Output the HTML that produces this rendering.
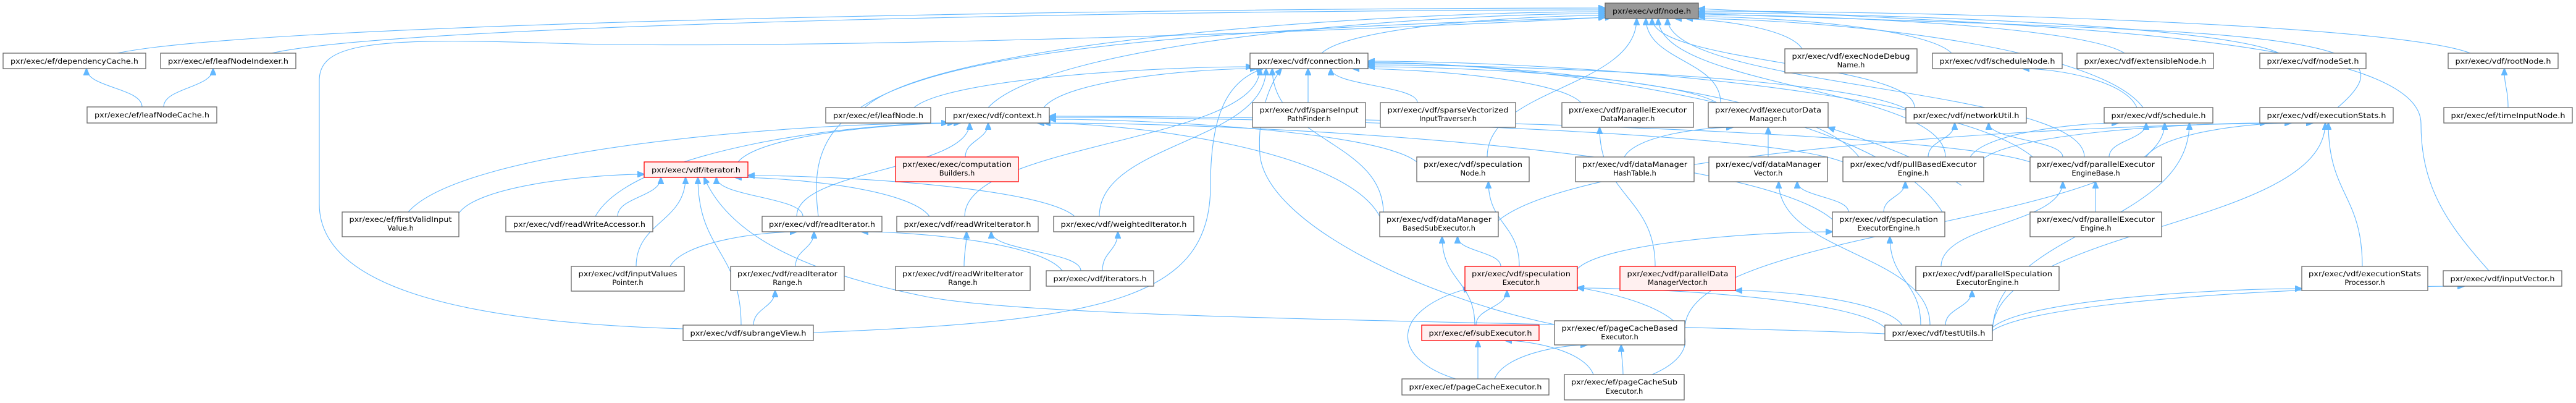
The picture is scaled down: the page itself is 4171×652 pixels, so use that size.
<!DOCTYPE html>
<html><head><meta charset="utf-8"><style>
html,body{margin:0;padding:0;background:#fff;}
svg{display:block;}
text{font-family:"DejaVu Sans","Liberation Sans",sans-serif;font-size:11.5px;fill:#000;}
.n{fill:#fff;stroke:#666;stroke-width:1.3;}
.r{fill:#fff0f0;stroke:#f00;stroke-width:1.3;}
.g{fill:#999;stroke:#666;stroke-width:1.3;}
#E path{fill:none;stroke:#63b8ff;stroke-width:1.1;}
</style></head><body>
<svg id="S" width="4171" height="652" viewBox="0 0 4171 652" xmlns="http://www.w3.org/2000/svg">
<defs><marker id="a" markerWidth="12" markerHeight="10" refX="11" refY="5" orient="auto" markerUnits="userSpaceOnUse"><path d="M0,0 L12,5 L0,10 z" fill="#63b8ff" stroke="#63b8ff"/></marker></defs>
<g id="E"></g>
<g id="N">
<rect class="g" x="2599" y="5" width="151" height="25"/><text x="2674.5" y="22" text-anchor="middle" textLength="127" lengthAdjust="spacingAndGlyphs">pxr/exec/vdf/node.h</text>

<rect class="n" x="5" y="86" width="231" height="25"/><text x="120.5" y="103" text-anchor="middle" textLength="207" lengthAdjust="spacingAndGlyphs">pxr/exec/ef/dependencyCache.h</text>
<rect class="n" x="260" y="86" width="219" height="25"/><text x="369.5" y="103" text-anchor="middle" textLength="195" lengthAdjust="spacingAndGlyphs">pxr/exec/ef/leafNodeIndexer.h</text>
<rect class="n" x="141" y="173" width="210" height="26"/><text x="246" y="190" text-anchor="middle" textLength="186" lengthAdjust="spacingAndGlyphs">pxr/exec/ef/leafNodeCache.h</text>
<rect class="n" x="554" y="343" width="189" height="40"/><text x="648.5" y="359" text-anchor="middle" textLength="166" lengthAdjust="spacingAndGlyphs">pxr/exec/ef/firstValidInput</text><text x="648.5" y="373" text-anchor="middle">Value.h</text>
<rect class="n" x="819" y="350" width="238" height="25"/><text x="938" y="367" text-anchor="middle" textLength="214" lengthAdjust="spacingAndGlyphs">pxr/exec/vdf/readWriteAccessor.h</text>
<rect class="n" x="925" y="431" width="183" height="40"/><text x="1016.5" y="447" text-anchor="middle" textLength="160" lengthAdjust="spacingAndGlyphs">pxr/exec/vdf/inputValues</text><text x="1016.5" y="461" text-anchor="middle">Pointer.h</text>

<rect class="n" x="1337" y="174" width="170" height="25"/><text x="1422" y="191" text-anchor="middle" textLength="146" lengthAdjust="spacingAndGlyphs">pxr/exec/ef/leafNode.h</text>
<rect class="n" x="1531" y="174" width="168" height="25"/><text x="1615" y="191" text-anchor="middle" textLength="144" lengthAdjust="spacingAndGlyphs">pxr/exec/vdf/context.h</text>
<rect class="r" x="1043" y="262" width="168" height="25"/><text x="1127" y="279" text-anchor="middle" textLength="144" lengthAdjust="spacingAndGlyphs">pxr/exec/vdf/iterator.h</text>
<rect class="r" x="1450" y="254" width="199" height="40"/><text x="1549.5" y="270" text-anchor="middle" textLength="177" lengthAdjust="spacingAndGlyphs">pxr/exec/exec/computation</text><text x="1549.5" y="284" text-anchor="middle">Builders.h</text>
<rect class="n" x="1234" y="350" width="194" height="25"/><text x="1331" y="367" text-anchor="middle" textLength="172" lengthAdjust="spacingAndGlyphs">pxr/exec/vdf/readIterator.h</text>
<rect class="n" x="1452" y="350" width="229" height="25"/><text x="1566.5" y="367" text-anchor="middle" textLength="206" lengthAdjust="spacingAndGlyphs">pxr/exec/vdf/readWriteIterator.h</text>
<rect class="n" x="1706" y="350" width="227" height="25"/><text x="1819.5" y="367" text-anchor="middle" textLength="204" lengthAdjust="spacingAndGlyphs">pxr/exec/vdf/weightedIterator.h</text>
<rect class="n" x="1183" y="431" width="184" height="39"/><text x="1275" y="447" text-anchor="middle" textLength="162" lengthAdjust="spacingAndGlyphs">pxr/exec/vdf/readIterator</text><text x="1275" y="461" text-anchor="middle">Range.h</text>
<rect class="n" x="1450" y="431" width="218" height="39"/><text x="1559" y="447" text-anchor="middle" textLength="196" lengthAdjust="spacingAndGlyphs">pxr/exec/vdf/readWriteIterator</text><text x="1559" y="461" text-anchor="middle">Range.h</text>
<rect class="n" x="1694" y="438" width="174" height="25"/><text x="1781" y="455" text-anchor="middle" textLength="151" lengthAdjust="spacingAndGlyphs">pxr/exec/vdf/iterators.h</text>
<rect class="n" x="1106" y="526" width="211" height="25"/><text x="1211.5" y="543" text-anchor="middle" textLength="188" lengthAdjust="spacingAndGlyphs">pxr/exec/vdf/subrangeView.h</text>
<rect class="n" x="2024" y="86" width="191" height="25"/><text x="2119.5" y="103" text-anchor="middle" textLength="167" lengthAdjust="spacingAndGlyphs">pxr/exec/vdf/connection.h</text>
<rect class="n" x="2028" y="166" width="183" height="40"/><text x="2119.5" y="182" text-anchor="middle" textLength="160" lengthAdjust="spacingAndGlyphs">pxr/exec/vdf/sparseInput</text><text x="2119.5" y="196" text-anchor="middle">PathFinder.h</text>

<rect class="n" x="2890" y="79" width="214" height="39"/><text x="2997" y="95" text-anchor="middle" textLength="191" lengthAdjust="spacingAndGlyphs">pxr/exec/vdf/execNodeDebug</text><text x="2997" y="109" text-anchor="middle">Name.h</text>
<rect class="n" x="2235" y="166" width="219" height="40"/><text x="2344.5" y="182" text-anchor="middle" textLength="196" lengthAdjust="spacingAndGlyphs">pxr/exec/vdf/sparseVectorized</text><text x="2344.5" y="196" text-anchor="middle">InputTraverser.h</text>
<rect class="n" x="2529" y="166" width="213" height="40"/><text x="2635.5" y="182" text-anchor="middle" textLength="191" lengthAdjust="spacingAndGlyphs">pxr/exec/vdf/parallelExecutor</text><text x="2635.5" y="196" text-anchor="middle">DataManager.h</text>
<rect class="n" x="2766" y="166" width="194" height="40"/><text x="2863" y="182" text-anchor="middle" textLength="172" lengthAdjust="spacingAndGlyphs">pxr/exec/vdf/executorData</text><text x="2863" y="196" text-anchor="middle">Manager.h</text>
<rect class="n" x="3086" y="174" width="195" height="25"/><text x="3183.5" y="191" text-anchor="middle" textLength="172" lengthAdjust="spacingAndGlyphs">pxr/exec/vdf/networkUtil.h</text>
<rect class="n" x="2294" y="254" width="182" height="40"/><text x="2385" y="270" text-anchor="middle" textLength="160" lengthAdjust="spacingAndGlyphs">pxr/exec/vdf/speculation</text><text x="2385" y="284" text-anchor="middle">Node.h</text>
<rect class="n" x="2551" y="254" width="192" height="40"/><text x="2647" y="270" text-anchor="middle" textLength="170" lengthAdjust="spacingAndGlyphs">pxr/exec/vdf/dataManager</text><text x="2647" y="284" text-anchor="middle">HashTable.h</text>
<rect class="n" x="2767" y="254" width="192" height="40"/><text x="2863" y="270" text-anchor="middle" textLength="170" lengthAdjust="spacingAndGlyphs">pxr/exec/vdf/dataManager</text><text x="2863" y="284" text-anchor="middle">Vector.h</text>
<rect class="n" x="2984" y="254" width="228" height="40"/><text x="3098" y="270" text-anchor="middle" textLength="205" lengthAdjust="spacingAndGlyphs">pxr/exec/vdf/pullBasedExecutor</text><text x="3098" y="284" text-anchor="middle">Engine.h</text>
<rect class="n" x="2234" y="343" width="192" height="40"/><text x="2330" y="359" text-anchor="middle" textLength="170" lengthAdjust="spacingAndGlyphs">pxr/exec/vdf/dataManager</text><text x="2330" y="373" text-anchor="middle">BasedSubExecutor.h</text>
<rect class="n" x="2967" y="343" width="182" height="40"/><text x="3058" y="359" text-anchor="middle" textLength="160" lengthAdjust="spacingAndGlyphs">pxr/exec/vdf/speculation</text><text x="3058" y="373" text-anchor="middle">ExecutorEngine.h</text>
<rect class="r" x="2372" y="431" width="182" height="39"/><text x="2463" y="447" text-anchor="middle" textLength="160" lengthAdjust="spacingAndGlyphs">pxr/exec/vdf/speculation</text><text x="2463" y="461" text-anchor="middle">Executor.h</text>
<rect class="r" x="2623" y="431" width="187" height="39"/><text x="2716.5" y="447" text-anchor="middle" textLength="164" lengthAdjust="spacingAndGlyphs">pxr/exec/vdf/parallelData</text><text x="2716.5" y="461" text-anchor="middle">ManagerVector.h</text>
<rect class="n" x="3102" y="431" width="232" height="39"/><text x="3218" y="447" text-anchor="middle" textLength="210" lengthAdjust="spacingAndGlyphs">pxr/exec/vdf/parallelSpeculation</text><text x="3218" y="461" text-anchor="middle">ExecutorEngine.h</text>
<rect class="r" x="2302" y="526" width="190" height="25"/><text x="2397" y="543" text-anchor="middle" textLength="167" lengthAdjust="spacingAndGlyphs">pxr/exec/ef/subExecutor.h</text>
<rect class="n" x="2517" y="519" width="211" height="39"/><text x="2622.5" y="535" text-anchor="middle" textLength="188" lengthAdjust="spacingAndGlyphs">pxr/exec/ef/pageCacheBased</text><text x="2622.5" y="549" text-anchor="middle">Executor.h</text>
<rect class="n" x="3052" y="526" width="174" height="25"/><text x="3139" y="543" text-anchor="middle" textLength="151" lengthAdjust="spacingAndGlyphs">pxr/exec/vdf/testUtils.h</text>
<rect class="n" x="2270" y="613" width="238" height="26"/><text x="2389" y="630" text-anchor="middle" textLength="215" lengthAdjust="spacingAndGlyphs">pxr/exec/ef/pageCacheExecutor.h</text>
<rect class="n" x="2533" y="606" width="194" height="41"/><text x="2630" y="622" text-anchor="middle" textLength="172" lengthAdjust="spacingAndGlyphs">pxr/exec/ef/pageCacheSub</text><text x="2630" y="637" text-anchor="middle">Executor.h</text>

<rect class="n" x="3129" y="86" width="210" height="25"/><text x="3234" y="103" text-anchor="middle" textLength="187" lengthAdjust="spacingAndGlyphs">pxr/exec/vdf/scheduleNode.h</text>
<rect class="n" x="3363" y="86" width="221" height="25"/><text x="3473.5" y="103" text-anchor="middle" textLength="198" lengthAdjust="spacingAndGlyphs">pxr/exec/vdf/extensibleNode.h</text>
<rect class="n" x="3659" y="86" width="172" height="25"/><text x="3745" y="103" text-anchor="middle" textLength="149" lengthAdjust="spacingAndGlyphs">pxr/exec/vdf/nodeSet.h</text>
<rect class="n" x="3964" y="86" width="178" height="25"/><text x="4053" y="103" text-anchor="middle" textLength="155" lengthAdjust="spacingAndGlyphs">pxr/exec/vdf/rootNode.h</text>
<rect class="n" x="3407" y="174" width="176" height="25"/><text x="3495" y="191" text-anchor="middle" textLength="153" lengthAdjust="spacingAndGlyphs">pxr/exec/vdf/schedule.h</text>
<rect class="n" x="3659" y="174" width="216" height="25"/><text x="3767" y="191" text-anchor="middle" textLength="193" lengthAdjust="spacingAndGlyphs">pxr/exec/vdf/executionStats.h</text>
<rect class="n" x="3957" y="174" width="208" height="25"/><text x="4061" y="191" text-anchor="middle" textLength="185" lengthAdjust="spacingAndGlyphs">pxr/exec/ef/timeInputNode.h</text>
<rect class="n" x="3287" y="254" width="213" height="40"/><text x="3393.5" y="270" text-anchor="middle" textLength="191" lengthAdjust="spacingAndGlyphs">pxr/exec/vdf/parallelExecutor</text><text x="3393.5" y="284" text-anchor="middle">EngineBase.h</text>
<rect class="n" x="3287" y="343" width="213" height="40"/><text x="3393.5" y="359" text-anchor="middle" textLength="191" lengthAdjust="spacingAndGlyphs">pxr/exec/vdf/parallelExecutor</text><text x="3393.5" y="373" text-anchor="middle">Engine.h</text>
<rect class="n" x="3727" y="431" width="204" height="39"/><text x="3829" y="447" text-anchor="middle" textLength="182" lengthAdjust="spacingAndGlyphs">pxr/exec/vdf/executionStats</text><text x="3829" y="461" text-anchor="middle">Processor.h</text>
<rect class="n" x="3956" y="438" width="192" height="25"/><text x="4052" y="455" text-anchor="middle" textLength="169" lengthAdjust="spacingAndGlyphs">pxr/exec/vdf/inputVector.h</text>
</g>
</svg>
<script>
var E=[
// to node.h
[190,86,2599,13],[440,86,2599,16],[1400,174,2599,19],[1600,174,2599,22],[2140,86,2599,25],
[2408,254,2650,30,'v'],[2786,166,2665,30,'v'],[3100,174,2675,30,'v'],[3150,254,2685,30,'v'],[3375,254,2700,30,'v'],
[2918,79,2712,30],[3160,86,2750,27],[3440,86,2750,24],[3690,86,2750,21],[4000,86,2750,18],[3470,174,2730,30],
// connection.h
[2118,166,2118,111,'v'],[2295,166,2155,111,'v'],[2560,166,2190,111],[2786,170,2215,108],[3090,178,2215,105],
[3010,254,2215,102],[3300,262,2215,99],[1690,174,2035,111],[1480,174,2028,108],[1562,350,2040,111],
[1780,350,2050,111,'v'],[2240,345,2060,111,'v'],[3149,350,2215,101],
// context.h
[1195,262,1555,199],[1563,254,1600,199,'v'],[964,350,1545,199],[2294,262,1699,193],[2967,355,1690,199],
[2984,262,1699,190],[3287,262,1699,188],[2234,350,1680,199],[661,343,1535,199],[1290,350,1570,199],
// iterator.h
[743,345,1043,282],[1000,350,1070,287],[1030,431,1110,287,'v'],[1200,526,1130,287,'v'],[1300,350,1160,287],
[1505,350,1190,287],[1740,350,1211,284],
// readIterator etc
[1085,431,1290,375],[1288,431,1318,375],[1720,438,1395,375],[1561,431,1565,375,'v'],[1750,438,1605,375],
[1785,438,1810,375],[1220,526,1255,470],
// leaf caches
[230,173,140,111],[265,173,345,111],
// executor graph
[2630,254,2806,206],[2863,254,2863,206,'v'],[2680,431,2590,206,'v'],[2993,343,2910,294],[3050,343,3085,294],
[3125,526,2880,294],[3110,526,3060,383,'v'],[2554,435,2967,375],[2460,431,2410,294,'v'],[2430,431,2360,383],
[2390,526,2440,470],[2388,526,2335,383,'v'],[2393,613,2393,551,'v'],[2420,613,2570,558],[2580,606,2437,551],
[2628,606,2625,558,'v'],[3052,530,2554,466],[3080,526,2810,470],[2728,532,3505,199],[3143,431,3340,294,'v'],
[3150,526,3193,470],[3393,343,3393,294,'v'],[3226,530,3727,467],[3226,535,3990,463],[3226,537,3765,199,'v'],
[3226,540,3545,199,'v'],[3825,431,3770,199,'v'],[3190,254,3430,199],[3210,258,3670,199],[3415,254,3475,199],
[3475,254,3710,199],[3340,254,3220,199],[3122,254,3165,199],[2426,357,3745,199],[3460,174,3275,111],
[4061,174,4055,111,'v']
];
var P=[
"M1106,532 C700,520 517,450 517,330 L517,130 C517,70 600,60 900,70 C1200,80 2000,60 2599,28",
"M1325,350 C1300,150 1400,60 2610,28",
"M3052,540 C2600,520 1700,520 1500,480 C1300,440 1180,380 1140,287",
"M2517,525 C2300,480 2050,360 2040,250 C2035,180 2060,130 2075,111",
"M2357,613 C2250,580 2250,500 2380,466",
"M2675,606 C2760,570 2760,500 2554,465",
"M1317,538 C1800,520 1960,480 1960,300 C1960,180 1990,130 2045,111",
"M4030,438 C3960,360 3920,300 3920,200 C3920,60 3300,40 2750,14",
"M3785,174 C3860,110 3850,70 3500,50 C3200,35 2900,28 2750,22",
"M3176,300 C3100,250 3030,230 2960,206"
];
var g=document.getElementById('E'),ns="http://www.w3.org/2000/svg";
function add(d){var p=document.createElementNS(ns,'path');p.setAttribute('d',d);p.setAttribute('marker-end','url(#a)');g.appendChild(p);}
E.forEach(function(e){var x1=e[0],y1=e[1],x2=e[2],y2=e[3],dx=x2-x1,dy=y2-y1,d;
 if(e[4]=='v'||Math.abs(dx)<Math.abs(dy)*2.5){var m=(y1+y2)/2;d="M"+x1+","+y1+" C"+x1+","+m+" "+x2+","+m+" "+x2+","+y2;}
 else{d="M"+x1+","+y1+" C"+(x1+dx*0.1)+","+(y1+dy*0.7)+" "+(x2-dx*0.3)+","+y2+" "+x2+","+y2;}
 add(d);});
P.forEach(add);
</script>
</body></html>
